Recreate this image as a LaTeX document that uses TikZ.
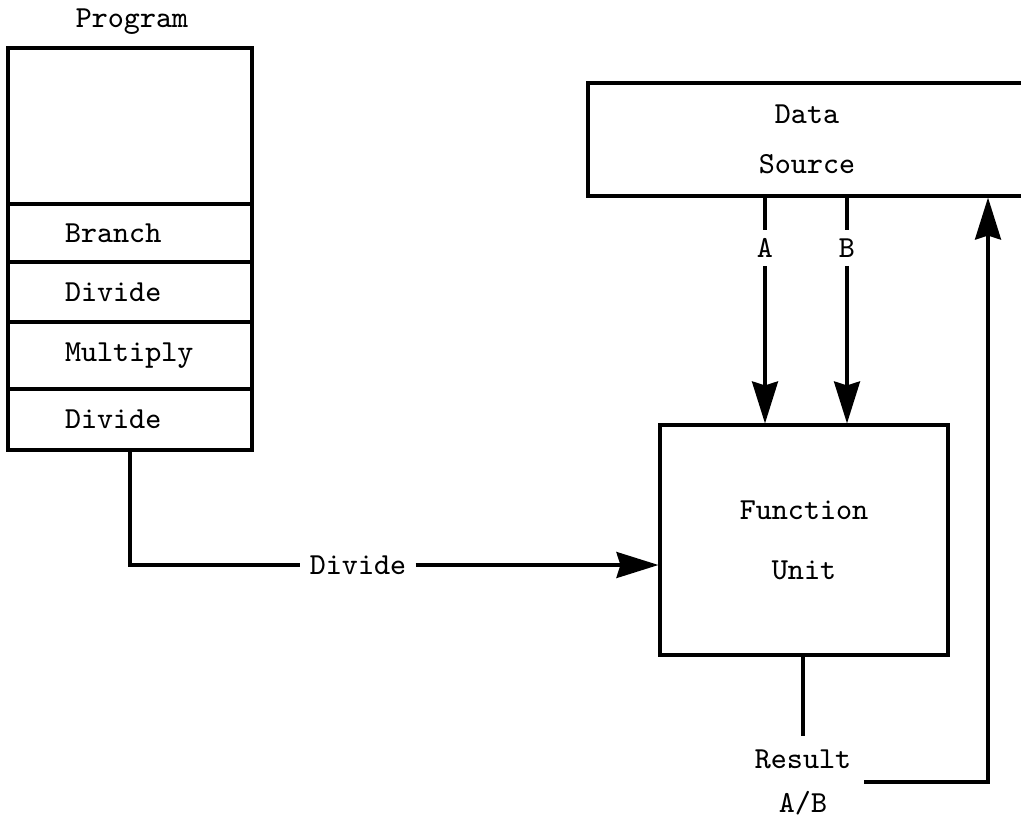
\documentclass[tikz,border=0pt]{standalone}
\usetikzlibrary{arrows.meta, positioning}

\begin{document}
\begin{tikzpicture}[
            x=0.1mm, y=-0.1mm,
            line width=0.9pt,
            >={Stealth[length=4.2mm, width=2.6mm, inset=0.4mm]},
            every node/.style={font=\fontsize{8.7}{10}\selectfont\ttfamily},
            cell/.style={rectangle, draw, outer sep=0pt, minimum width=24.4mm, text width=13mm, inner xsep=5.7mm, inner ysep=0pt, align=left},
            unit/.style={rectangle, draw, align=center},
            tag/.style={inner sep=0.7mm},
            arrow/.style={->}
        ]
\useasboundingbox (0,0) rectangle (1021,822);
\clip (0,0) rectangle (1021,822);

% Nodes
            \node (title) at (132,22) {Program};
            \node[cell, anchor=north, minimum height=15.6mm] (prog) at (130,48) {};
            \node[cell, minimum height=5.8mm, below=0pt of prog] (branch) {Branch};
            \node[cell, minimum height=6.0mm, below=0pt of branch] (div1) {Divide};
            \node[cell, minimum height=6.7mm, below=0pt of div1] (mult) {Multiply};
            \node[cell, minimum height=6.1mm, below=0pt of mult] (div2) {Divide};
            \node[unit, minimum width=43.8mm, minimum height=11.3mm, font=\fontsize{8.7}{14.2}\selectfont\ttfamily] (ds) at (807,139.5) {Data\\Source};
            \node[unit, minimum width=28.8mm, minimum height=23mm, font=\fontsize{8.7}{17}\selectfont\ttfamily] (fu) at (804,540) {Function\\Unit};
            \node[tag] (a) at (765,248) {A};
            \node[tag] (b) at (847,248) {B};
            \node[inner sep=0.8mm] (dlbl) at (358,565) {Divide};
            \node[align=center, font=\fontsize{8.7}{12.5}\selectfont\ttfamily] (res) at (803,782) {Result\\A/B};
            \coordinate (back) at (988,0 |- ds.south);

% Edges
            \draw (a |- ds.south) -- (a.north);
            \draw[arrow] (a.south) -- (a |- fu.north);
            \draw (b |- ds.south) -- (b.north);
            \draw[arrow] (b.south) -- (b |- fu.north);
            \draw (div2.south) |- (dlbl.west);
            \draw[arrow] (dlbl.east) -- (dlbl -| fu.west);
            \draw (res.north |- fu.south) -- (res.north);
            \draw[arrow] (res.east) -| (back);

        \end{tikzpicture}
\end{document}
